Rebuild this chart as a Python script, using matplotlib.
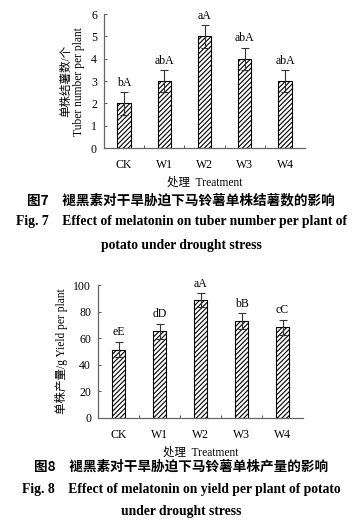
import matplotlib.pyplot as plt
import numpy as np

# Datos
tratamientos = ['CK', 'W1', 'W2', 'W3', 'W4']
tuberculos = [2, 3, 5, 4, 3]
tuberculos_err = [0.5, 0.5, 0.5, 0.5, 0.5]
letras_tub = ['bA', 'abA', 'aA', 'abA', 'abA']

rendimiento = [51.5, 65.3, 88.7, 72.9, 68.1]
rendimiento_err = [6.0, 5.8, 5.5, 5.8, 6.0]
letras_rend = ['eE', 'dD', 'aA', 'bB', 'cC']

SERIF = ['Liberation Serif', 'Noto Sans CJK SC']
CJK = ['Noto Sans CJK SC', 'Liberation Serif']

plt.rcParams['hatch.linewidth'] = 0.8
plt.rcParams['font.family'] = SERIF

fig = plt.figure(figsize=(3.62, 5.29), dpi=100)


def dibujar(ax, valores, errores, letras, ymax, paso, ylabel):
    x = np.arange(len(tratamientos))
    ax.bar(x, valores, width=0.33, color='white', edgecolor='black',
           hatch='///////', linewidth=0.8, zorder=2)
    ax.errorbar(x, valores, yerr=errores, fmt='none', ecolor='#333333',
                elinewidth=0.8, capsize=3, capthick=0.8, zorder=3)
    for xi, v, e, t in zip(x, valores, errores, letras):
        ax.text(xi, v + e + ymax * 0.025, t, ha='center', va='bottom',
                fontsize=8.5, family=SERIF)
    ax.set_xlim(-0.5, len(tratamientos) - 0.5)
    ax.set_ylim(0, ymax)
    ax.set_yticks(np.arange(0, ymax + 0.01, paso))
    ax.set_xticks(x)
    ax.set_xticklabels(tratamientos)
    ax.set_xticks(np.arange(0.5, len(tratamientos) - 0.5, 1), minor=True)
    ax.tick_params(axis='x', which='major', length=0, pad=8, labelsize=8.5)
    ax.tick_params(axis='x', which='minor', direction='in', length=2.5,
                   width=0.7, color='#555555')
    ax.tick_params(axis='y', direction='in', length=2.5, width=0.7,
                   color='#555555', labelsize=8.5, pad=5)
    for s in ['top', 'right']:
        ax.spines[s].set_visible(False)
    for s in ['left', 'bottom']:
        ax.spines[s].set_color('#666666')
        ax.spines[s].set_linewidth(0.9)
    ax.set_xlabel('处理  Treatment', fontsize=8.3, family=SERIF, labelpad=4)
    ax.set_ylabel(ylabel, fontsize=8.3, family=SERIF, labelpad=4,
                  linespacing=1.15)


# Figura 7
ax1 = fig.add_axes([0.287, 0.720, 0.556, 0.2535])
dibujar(ax1, tuberculos, tuberculos_err, letras_tub, 6, 1,
        '单株结薯数/个\nTuber number per plant')

fig.text(0.5, 1 - 200 / 529, '图7　褪黑素对干旱胁迫下马铃薯单株结薯数的影响',
         ha='center', va='center', fontsize=9.8, family=CJK, weight='bold')
fig.text(0.5, 1 - 222 / 529, 'Fig. 7    Effect of melatonin on tuber number per plant of',
         ha='center', va='center', fontsize=9.8, family=SERIF, weight='bold')
fig.text(0.5, 1 - 245 / 529, 'potato under drought stress',
         ha='center', va='center', fontsize=9.8, family=SERIF, weight='bold')

# Figura 8
ax2 = fig.add_axes([0.271, 0.210, 0.566, 0.251])
dibujar(ax2, rendimiento, rendimiento_err, letras_rend, 100, 20,
        '单株产量/g Yield per plant')

fig.text(0.5, 1 - 467 / 529, '图8　褪黑素对干旱胁迫下马铃薯单株产量的影响',
         ha='center', va='center', fontsize=9.8, family=CJK, weight='bold')
fig.text(0.5, 1 - 490 / 529, 'Fig. 8    Effect of melatonin on yield per plant of potato',
         ha='center', va='center', fontsize=9.8, family=SERIF, weight='bold')
fig.text(0.5, 1 - 512 / 529, 'under drought stress',
         ha='center', va='center', fontsize=9.8, family=SERIF, weight='bold')

fig.savefig('out.png', dpi=100)
